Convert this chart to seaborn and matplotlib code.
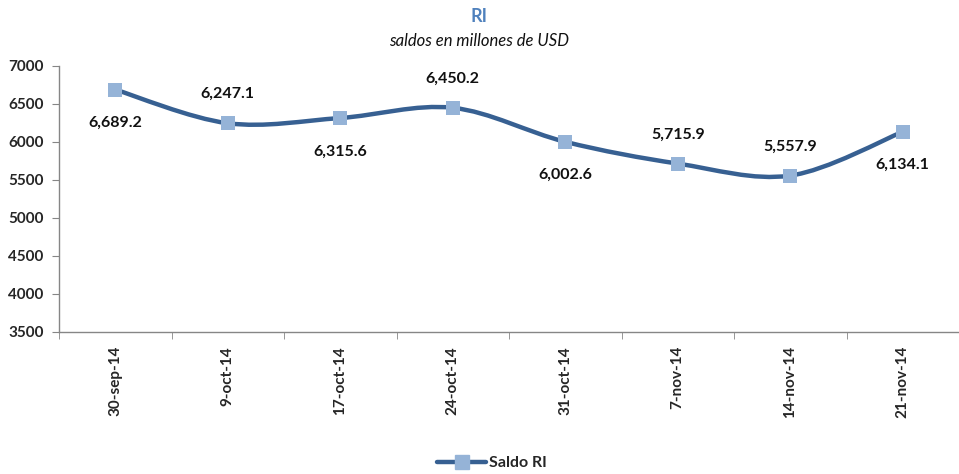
import numpy as np
import matplotlib.pyplot as plt
import seaborn as sns
from matplotlib.path import Path
from matplotlib.patches import PathPatch
from matplotlib.lines import Line2D

# Data
fechas = ["30-sep-14", "9-oct-14", "17-oct-14", "24-oct-14",
          "31-oct-14", "7-nov-14", "14-nov-14", "21-nov-14"]
saldo = [6689.2, 6247.1, 6315.6, 6450.2, 6002.6, 5715.9, 5557.9, 6134.1]
# label above (+1) or below (-1) the point
label_side = [-1, 1, -1, 1, -1, 1, 1, -1]

line_color = "#376092"
marker_color = "#95B3D7"

sns.set_style("white")
plt.rcParams["font.family"] = ["Lato", "DejaVu Sans"]

fig = plt.figure(figsize=(9.59, 4.74), dpi=100)
ax = fig.add_axes([59 / 959, 1 - 332 / 474, 1 - 59 / 959, (332 - 66) / 474])

x = np.arange(len(saldo))
y = np.array(saldo)

# Smoothed line (Catmull-Rom as cubic Bezier segments, like Excel)
pts = np.column_stack([x, y])
ext = np.vstack([pts[0], pts, pts[-1]])
verts = [tuple(pts[0])]
codes = [Path.MOVETO]
for i in range(len(pts) - 1):
    p0, p1, p2, p3 = ext[i], ext[i + 1], ext[i + 2], ext[i + 3]
    c1 = p1 + (p2 - p0) / 6
    c2 = p2 - (p3 - p1) / 6
    verts += [tuple(c1), tuple(c2), tuple(p2)]
    codes += [Path.CURVE4] * 3
ax.add_patch(PathPatch(Path(verts, codes), facecolor="none",
                       edgecolor=line_color, lw=3.2, capstyle="round",
                       zorder=2))

sns.scatterplot(x=x, y=y, marker="s", s=110, color=marker_color,
                edgecolor=marker_color, linewidth=0, ax=ax, zorder=3)

for xi, yi, side in zip(x, y, label_side):
    off = 21 if side > 0 else -24
    ax.annotate(f"{yi:,.1f}", (xi, yi), xytext=(0, off),
                textcoords="offset points", ha="center", va="center",
                fontsize=11.5, fontweight="bold", color="#111111")

ax.set_xlim(-0.5, len(saldo) - 0.5)
ax.set_ylim(3500, 7000)
ax.set_yticks(range(3500, 7001, 500))
ax.set_yticklabels([str(v) for v in range(3500, 7001, 500)],
                   fontsize=11, fontweight="bold")
ax.set_xticks(x)
ax.set_xticklabels(fechas, rotation=90, fontsize=11, fontweight="bold")
ax.set_xticks(np.arange(-0.5, len(saldo)), minor=True)
ax.tick_params(axis="x", which="major", length=0, pad=10)
ax.tick_params(axis="x", which="minor", length=5, color="#868686",
               direction="out", bottom=True)
ax.tick_params(axis="y", length=5, color="#868686", direction="out",
               left=True, pad=6)

for s in ["top", "right"]:
    ax.spines[s].set_visible(False)
for s in ["left", "bottom"]:
    ax.spines[s].set_color("#868686")
    ax.spines[s].set_linewidth(1)

fig.text(0.5, 1 - 17 / 474, "RI", ha="center", va="center",
         fontsize=13, fontweight="bold", color="#4F81BD")
fig.text(0.5, 1 - 41 / 474, "saldos en millones de USD", ha="center",
         va="center", fontsize=12, style="italic", color="#111111")

handle = Line2D([], [], color=line_color, lw=3.2, marker="s",
                markersize=10, markerfacecolor=marker_color,
                markeredgecolor=marker_color)
fig.legend([handle], ["Saldo RI"], loc="center",
           bbox_to_anchor=(492 / 959, 1 - 463 / 474), frameon=False,
           prop={"weight": "bold", "size": 11.5}, handlelength=3.1,
           handletextpad=0.2)

fig.savefig("out.png", dpi=100)
